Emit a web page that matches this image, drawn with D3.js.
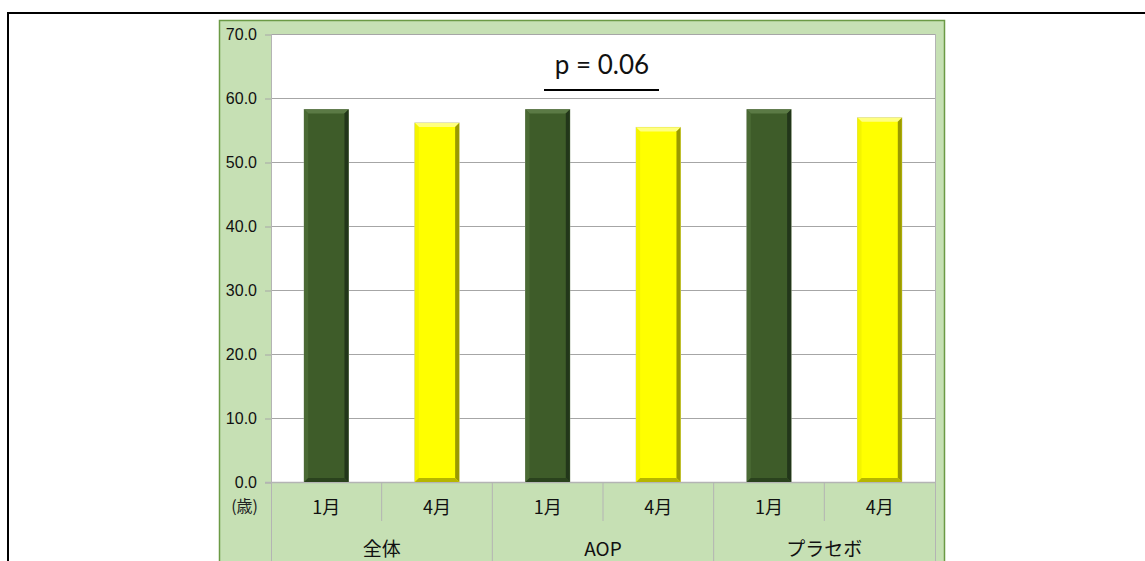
<!DOCTYPE html>
<html>
<head>
<meta charset="utf-8">
<script src="https://cdn.jsdelivr.net/npm/d3@7"></script>
<style>
  html, body { margin: 0; padding: 0; background: #fff; }
  svg { display: block; }
</style>
</head>
<body>
<svg id="chart" width="1145" height="561"></svg>
<script>
// Mean age (years) by group, January vs April
const groups = ["全体", "AOP", "プラセボ"];
const months = ["1月", "4月"];
const valuesJan = [58.2, 58.2, 58.2];
const valuesApr = [56.1, 55.4, 56.9];
const yTicks = [0, 10, 20, 30, 40, 50, 60, 70];
const pLabel = "p = 0.06";
const unitLabel = "(歳)";

const rows = [];
groups.forEach((g, i) => {
  rows.push({ group: g, month: months[0], value: valuesJan[i] });
  rows.push({ group: g, month: months[1], value: valuesApr[i] });
});

const svg = d3.select("#chart");

const plot = { left: 271, right: 935, top: 34, bottom: 482 };

// Page frame
svg.append("line").attr("x1", 7).attr("x2", 1145).attr("y1", 13).attr("y2", 13)
  .attr("stroke", "#000").attr("stroke-width", 2);
svg.append("line").attr("x1", 8).attr("x2", 8).attr("y1", 12).attr("y2", 561)
  .attr("stroke", "#000").attr("stroke-width", 2);

// Chart area background
svg.append("rect").attr("x", 219.5).attr("y", 20.5).attr("width", 725).attr("height", 560)
  .attr("fill", "#c6e0b4").attr("stroke", "#6b9a45").attr("stroke-width", 1.5);

// Plot area
svg.append("rect").attr("x", plot.left).attr("y", plot.top)
  .attr("width", plot.right - plot.left).attr("height", plot.bottom - plot.top)
  .attr("fill", "#fff");

const y = d3.scaleLinear().domain([0, 70]).range([plot.bottom, plot.top]);
const x0 = d3.scaleBand().domain(groups).range([plot.left, plot.right]);
const x1 = d3.scaleBand().domain(months).range([0, x0.bandwidth()]).paddingInner(0.6).paddingOuter(0.3);

// Gridlines
svg.append("g").selectAll("line").data(yTicks.filter(t => t > 0)).join("line")
  .attr("x1", plot.left).attr("x2", plot.right)
  .attr("y1", d => Math.round(y(d)) + 0.5).attr("y2", d => Math.round(y(d)) + 0.5)
  .attr("stroke", "#a6a6a6").attr("stroke-width", 1);

// Y axis
const yAxis = d3.axisLeft(y).tickValues(yTicks).tickFormat(d3.format(".1f")).tickSize(6).tickPadding(8);
const yg = svg.append("g").attr("transform", `translate(${plot.left},0.5)`).call(yAxis);
yg.select(".domain").remove();
yg.selectAll(".tick line").attr("stroke", "#a6a6a6");
yg.selectAll(".tick text").attr("fill", "#111")
  .style("font-family", "'Liberation Sans', Arial, sans-serif").style("font-size", "16px");

svg.append("text").attr("x", 258).attr("y", 512).attr("text-anchor", "end")
  .style("font-family", "'Noto Sans CJK JP', sans-serif").style("font-size", "16px")
  .attr("fill", "#222").text(unitLabel);

// Plot side borders (run down through the category axis area)
[plot.left, plot.right].forEach(xv => {
  svg.append("line").attr("x1", xv + 0.5).attr("x2", xv + 0.5).attr("y1", plot.top).attr("y2", 561)
    .attr("stroke", "#b4b4b4").attr("stroke-width", 1);
});
// Baseline
svg.append("line").attr("x1", plot.left - 6).attr("x2", plot.right).attr("y1", plot.bottom + 0.5).attr("y2", plot.bottom + 0.5)
  .attr("stroke", "#b4b4b4").attr("stroke-width", 1.5);

// Category separators
groups.forEach(g => {
  const gx = x0(g);
  svg.append("line").attr("x1", gx + x0.bandwidth() / 2).attr("x2", gx + x0.bandwidth() / 2)
    .attr("y1", plot.bottom).attr("y2", 521).attr("stroke", "#b4b4b4");
});
groups.slice(1).forEach(g => {
  svg.append("line").attr("x1", x0(g)).attr("x2", x0(g))
    .attr("y1", plot.bottom).attr("y2", 561).attr("stroke", "#b4b4b4");
});

// Bevelled bars
const styles = {
  "1月": { base: "#3e5c29", top: "#5b7a45", left: "#4a6a34", right: "#22361a", bottom: "#2a421d", edge: "#9aa890" },
  "4月": { base: "#ffff00", top: "#ffff80", left: "#f4f400", right: "#9a9a00", bottom: "#b5b500", edge: "#c8c8a0" }
};
const bev = 4;
const bars = svg.append("g").selectAll("g").data(rows).join("g");
bars.each(function (d) {
  const s = styles[d.month];
  const bx = x0(d.group) + x1(d.month);
  const bw = x1.bandwidth();
  const by = y(d.value);
  const bh = y(0) - by;
  const gg = d3.select(this);
  gg.append("rect").attr("x", bx - 0.5).attr("y", by - 0.5).attr("width", bw + 1).attr("height", bh + 0.5)
    .attr("fill", s.edge);
  gg.append("rect").attr("x", bx).attr("y", by).attr("width", bw).attr("height", bh).attr("fill", s.base);
  const poly = (pts, fill) => gg.append("polygon").attr("points", pts.map(p => p.join(",")).join(" ")).attr("fill", fill);
  const x2 = bx + bw, y2 = by + bh;
  poly([[bx, by], [x2, by], [x2 - bev, by + bev], [bx + bev, by + bev]], s.top);
  poly([[bx, by], [bx + bev, by + bev], [bx + bev, y2 - bev], [bx, y2]], s.left);
  poly([[x2, by], [x2, y2], [x2 - bev, y2 - bev], [x2 - bev, by + bev]], s.right);
  poly([[bx, y2], [bx + bev, y2 - bev], [x2 - bev, y2 - bev], [x2, y2]], s.bottom);
});

// Category labels
const catFont = "'Noto Sans CJK JP', sans-serif";
groups.forEach(g => {
  months.forEach(m => {
    svg.append("text").attr("x", x0(g) + x1(m) + x1.bandwidth() / 2).attr("y", 514)
      .attr("text-anchor", "middle").style("font-family", catFont).style("font-size", "18px")
      .attr("fill", "#111").text(m);
  });
  svg.append("text").attr("x", x0(g) + x0.bandwidth() / 2).attr("y", 556)
    .attr("text-anchor", "middle").style("font-family", catFont).style("font-size", "19px")
    .attr("fill", "#111").text(g);
});

// Significance annotation
svg.append("text").attr("x", 602).attr("y", 74).attr("text-anchor", "middle")
  .style("font-family", "Lato, 'Open Sans', sans-serif").style("font-size", "26px")
  .attr("fill", "#111").text(pLabel);
svg.append("line").attr("x1", 544).attr("x2", 659).attr("y1", 90).attr("y2", 90)
  .attr("stroke", "#000").attr("stroke-width", 2);
</script>
</body>
</html>
